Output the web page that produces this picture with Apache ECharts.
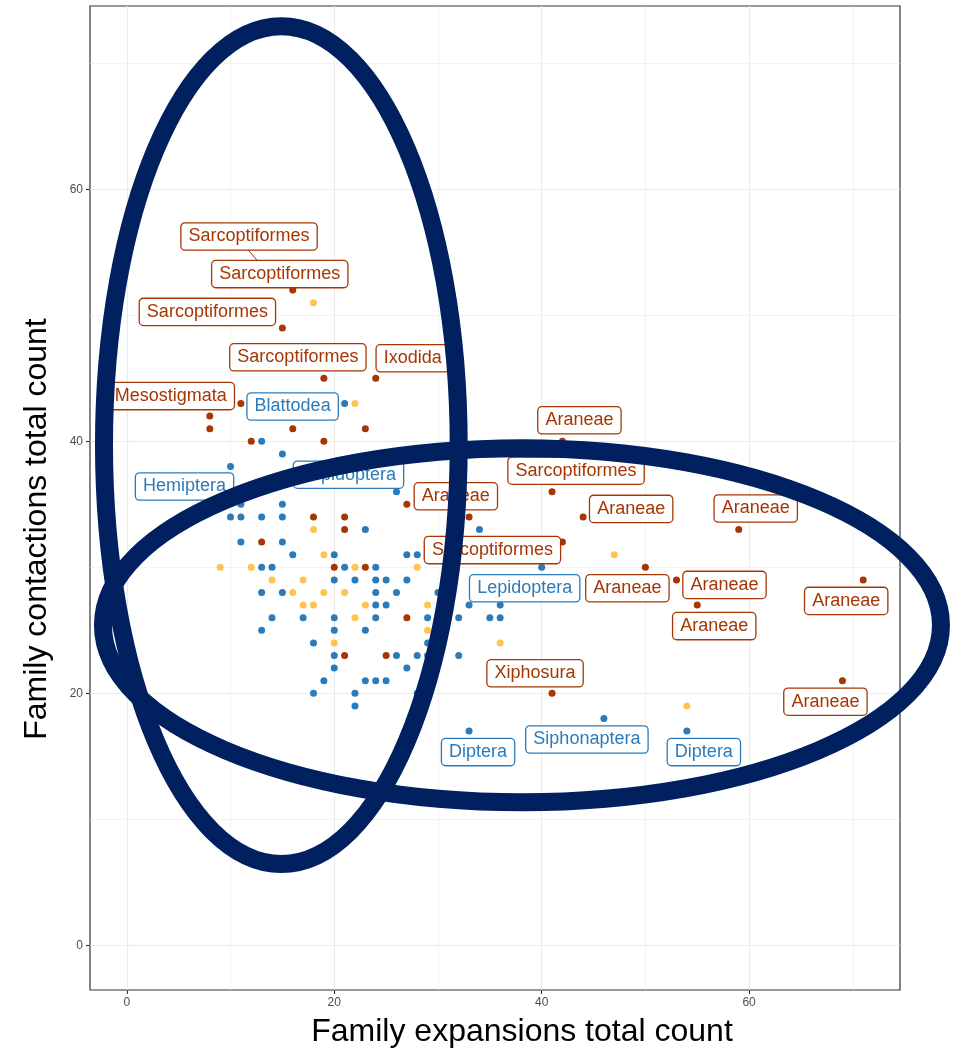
<!DOCTYPE html>
<html>
<head>
<meta charset="utf-8">
<script src="https://cdn.jsdelivr.net/npm/echarts@6/dist/echarts.min.js"></script>
<style>
html, body { margin: 0; padding: 0; background: #fff; }
#chart { width: 963px; height: 1051px; }
</style>
</head>
<body>
<div id="chart"></div>
<script>
// [family expansions, family contractions]
var arachnidPoints = [
    [16, 52], [15, 49], [19, 45], [24, 45], [11, 43], [8, 42], [8, 41], [16, 41], [23, 41],
    [12, 40], [19, 40], [27, 35], [18, 34], [21, 34], [33, 34], [21, 33], [13, 32], [20, 30],
    [23, 30], [27, 26], [21, 23], [25, 23], [42, 40], [41, 36], [44, 34], [59, 33], [42, 32],
    [50, 30], [53, 29], [71, 29], [55, 27], [69, 21], [41, 20]
];
var insectPoints = [
    [21, 43], [13, 40], [15, 39], [10, 38], [26, 36], [11, 35], [15, 35], [10, 34], [11, 34],
    [13, 34], [15, 34], [23, 33], [34, 33], [11, 32], [15, 32], [16, 31], [20, 31], [27, 31],
    [28, 31], [13, 30], [14, 30], [21, 30], [24, 30], [40, 30], [20, 29], [22, 29], [24, 29],
    [25, 29], [27, 29], [13, 28], [15, 28], [24, 28], [26, 28], [30, 28], [24, 27], [25, 27],
    [33, 27], [36, 27], [14, 26], [17, 26], [20, 26], [24, 26], [29, 26], [32, 26], [35, 26],
    [36, 26], [13, 25], [20, 25], [23, 25], [18, 24], [29, 24], [20, 23], [26, 23], [28, 23],
    [29, 23], [32, 23], [20, 22], [27, 22], [19, 21], [23, 21], [24, 21], [25, 21], [18, 20],
    [22, 20], [28, 20], [22, 19], [33, 17], [46, 18], [54, 17]
];
var otherPoints = [
    [18, 51], [22, 43], [18, 33], [19, 31], [9, 30], [12, 30], [22, 30], [28, 30], [14, 29],
    [17, 29], [16, 28], [19, 28], [21, 28], [17, 27], [18, 27], [23, 27], [29, 27], [22, 26],
    [29, 25], [20, 24], [36, 24], [47, 31], [54, 19]
];

// labelled orders (first one points to a point hidden behind the second label)
var labelNames = [
    'Sarcoptiformes', 'Sarcoptiformes', 'Sarcoptiformes', 'Sarcoptiformes', 'Ixodida', 'Mesostigmata',
    'Blattodea', 'Hemiptera', 'Lepidoptera', 'Araneae', 'Araneae', 'Sarcoptiformes', 'Araneae',
    'Araneae', 'Sarcoptiformes', 'Lepidoptera', 'Araneae', 'Araneae', 'Araneae', 'Araneae',
    'Araneae', 'Xiphosura', 'Diptera', 'Siphonaptera', 'Diptera'
];
var labelPoints = [
    [14, 53], [16, 52], [15, 49], [19, 45], [24, 45], [8, 42],
    [21, 43], [10, 38], [26, 36], [27, 35], [42, 40], [41, 36], [44, 34],
    [59, 33], [42, 32], [40, 30], [50, 30], [53, 29], [55, 27], [71, 29],
    [69, 21], [41, 20], [33, 17], [46, 18], [54, 17]
];
var labelGroups = [0, 0, 0, 0, 0, 0, 1, 1, 1, 0, 0, 0, 0, 0, 0, 1, 0, 0, 0, 0, 0, 0, 1, 1, 1];

// ellipses: centre x, centre y, half width, half height (data units)
var ellipseData = [[14.9, 39.7, 17.1, 33.25], [38.1, 25.4, 40.4, 14.05]];

var xTicks = [0, 20, 40, 60];
var yTicks = [0, 20, 40, 60];
var xMinor = [10, 30, 50, 70];
var yMinor = [10, 30, 50, 70];

// label offsets in px (ggrepel placement)
var labelOffsets = [
    [-23, -41], [-13, -16], [-75, -16], [-26, -21], [37, -20], [-39, -20],
    [-52, 3], [-46, 20], [-48, -17], [49, -8], [17, -21], [24, -21], [48, -8],
    [17, -21], [-70, 8], [-17, 21], [-18, 21], [48, 5], [17, 21], [-17, 21],
    [-17, 21], [-17, -20], [9, 21], [-17, 21], [17, 21]
];

var RED = '#A63603', BLUE = '#2B7BBA', YELLOW = '#FEC44F', NAVY = '#002060';
var FONT = 'Liberation Sans, Arial, sans-serif';

var chart = echarts.init(document.getElementById('chart'), null, {renderer: 'canvas'});

var gridLines = [];
xTicks.forEach(function (v) { gridLines.push({xAxis: v, lineStyle: {width: 1.1}}); });
yTicks.forEach(function (v) { gridLines.push({yAxis: v, lineStyle: {width: 1.1}}); });
xMinor.forEach(function (v) { gridLines.push({xAxis: v, lineStyle: {width: 0.6}}); });
yMinor.forEach(function (v) { gridLines.push({yAxis: v, lineStyle: {width: 0.6}}); });

var labelItems = labelPoints.map(function (p, i) {
    var c = labelGroups[i] === 0 ? RED : BLUE;
    return {
        value: p,
        name: labelNames[i],
        label: {offset: labelOffsets[i], color: c, borderColor: c},
        labelLine: {show: i === 0, lineStyle: {color: c, width: 1}}
    };
});

var option = {
    animation: false,
    backgroundColor: '#fff',
    textStyle: {fontFamily: FONT},
    grid: {
        left: 90, top: 6, width: 810, height: 984,
        show: true, borderColor: '#333', borderWidth: 1.2, backgroundColor: 'transparent'
    },
    xAxis: {
        type: 'value', min: -3.55, max: 74.55,
        splitLine: {show: false},
        axisLine: {show: false, onZero: false},
        axisTick: {show: true, length: 4, customValues: xTicks, lineStyle: {color: '#333', width: 1.1}},
        axisLabel: {customValues: xTicks, color: '#4D4D4D', fontSize: 12, margin: 7, fontFamily: FONT}
    },
    yAxis: {
        type: 'value', min: -3.55, max: 74.55,
        splitLine: {show: false},
        axisLine: {show: false, onZero: false},
        axisTick: {show: true, length: 4, customValues: yTicks, lineStyle: {color: '#333', width: 1.1}},
        axisLabel: {customValues: yTicks, color: '#4D4D4D', fontSize: 12, margin: 7, fontFamily: FONT}
    },
    graphic: [
        {
            type: 'text', x: 522, y: 1032, silent: true,
            style: {
                text: 'Family expansions total count', font: '32px ' + FONT, fill: '#000',
                textAlign: 'center', textVerticalAlign: 'middle', align: 'center', verticalAlign: 'middle'
            }
        },
        {
            type: 'text', x: 37, y: 529, rotation: Math.PI / 2, silent: true,
            style: {
                text: 'Family contactions total count', font: '32px ' + FONT, fill: '#000',
                textAlign: 'center', textVerticalAlign: 'middle', align: 'center', verticalAlign: 'middle'
            }
        }
    ],
    series: [
        {
            name: 'grid',
            type: 'line',
            data: [],
            z: 0,
            markLine: {
                z: 0,
                silent: true,
                symbol: ['none', 'none'],
                label: {show: false},
                lineStyle: {color: '#EBEBEB', type: 'solid'},
                data: gridLines
            }
        },
        {
            name: 'Insecta',
            type: 'scatter',
            z: 2,
            symbolSize: 7,
            itemStyle: {color: BLUE, opacity: 1},
            data: insectPoints
        },
        {
            name: 'Other',
            type: 'scatter',
            z: 2,
            symbolSize: 7,
            itemStyle: {color: YELLOW, opacity: 1},
            data: otherPoints
        },
        {
            name: 'Chelicerata',
            type: 'scatter',
            z: 2,
            symbolSize: 7,
            itemStyle: {color: RED, opacity: 1},
            data: arachnidPoints
        },
        {
            name: 'labels',
            type: 'scatter',
            z: 3,
            symbolSize: 0,
            silent: true,
            itemStyle: {opacity: 1, color: RED},
            label: {
                show: true,
                position: 'inside',
                formatter: '{b}',
                fontSize: 18,
                fontFamily: FONT,
                lineHeight: 18,
                backgroundColor: '#fff',
                borderWidth: 1.3,
                borderRadius: 3.5,
                padding: [4, 7, 4, 7]
            },
            data: labelItems
        },
        {
            name: 'ellipses',
            type: 'custom',
            z: 10,
            silent: true,
            clip: false,
            renderItem: function (params, api) {
                var c = api.coord([api.value(0), api.value(1)]);
                var s = api.size([api.value(2), api.value(3)]);
                return {
                    type: 'ellipse',
                    shape: {cx: c[0], cy: c[1], rx: s[0], ry: s[1]},
                    style: {fill: 'none', stroke: NAVY, lineWidth: 18}
                };
            },
            data: ellipseData
        }
    ]
};

chart.setOption(option);
</script>
</body>
</html>
